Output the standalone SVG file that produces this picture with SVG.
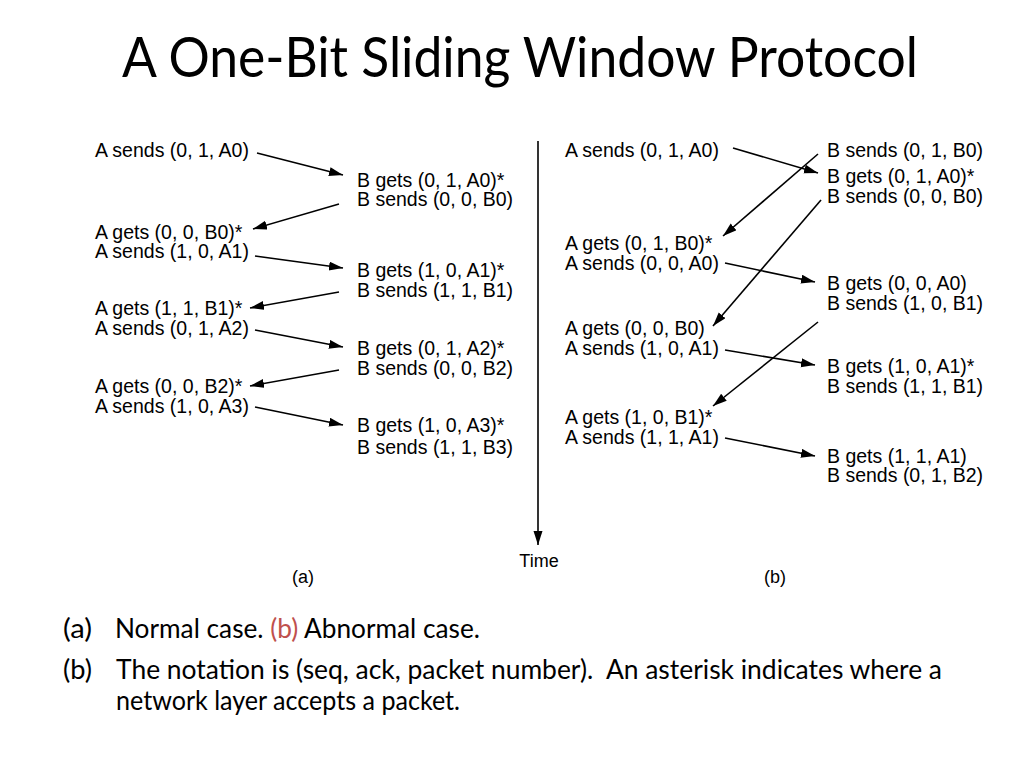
<svg xmlns="http://www.w3.org/2000/svg" width="1024" height="768" viewBox="0 0 1024 768">
<defs>
<marker id="ah" markerUnits="userSpaceOnUse" markerWidth="15" markerHeight="10" refX="14" refY="4.5" orient="auto">
<path d="M0,0 L14,4.5 L0,9 z" fill="#000"/>
</marker>
<style>
.t{font-family:"Liberation Sans",Arial,sans-serif;font-size:19.5px;fill:#000}
.s{font-family:"Liberation Sans",Arial,sans-serif;font-size:18px;fill:#000}
.c{font-family:Lato,"Open Sans",sans-serif;fill:#000}
.ln{stroke:#000;stroke-width:1.6;fill:none;marker-end:url(#ah)}
</style>
</defs>
<rect width="1024" height="768" fill="#fff"/>
<g id="title"><text class="c" x="122" y="77" font-size="56" textLength="796" lengthAdjust="spacingAndGlyphs">A One-Bit Sliding Window Protocol</text></g>

<g id="panel-a">
<g id="a1"><text class="t" x="95" y="157">A sends (0, 1, A0)</text></g>
<g id="b1"><text class="t" x="357" y="187">B gets (0, 1, A0)*</text><text class="t" x="357" y="206">B sends (0, 0, B0)</text></g>
<g id="a2"><text class="t" x="95" y="239">A gets (0, 0, B0)*</text><text class="t" x="95" y="258">A sends (1, 0, A1)</text></g>
<g id="b2"><text class="t" x="357" y="277">B gets (1, 0, A1)*</text><text class="t" x="357" y="297">B sends (1, 1, B1)</text></g>
<g id="a3"><text class="t" x="95" y="315">A gets (1, 1, B1)*</text><text class="t" x="95" y="335">A sends (0, 1, A2)</text></g>
<g id="b3"><text class="t" x="357" y="355">B gets (0, 1, A2)*</text><text class="t" x="357" y="375">B sends (0, 0, B2)</text></g>
<g id="a4"><text class="t" x="95" y="393">A gets (0, 0, B2)*</text><text class="t" x="95" y="413">A sends (1, 0, A3)</text></g>
<g id="b4"><text class="t" x="357" y="432">B gets (1, 0, A3)*</text><text class="t" x="357" y="454">B sends (1, 1, B3)</text></g>
<g id="label-a"><text class="s" x="303" y="583" text-anchor="middle">(a)</text></g>
</g>

<g id="panel-b">
<g id="ba1"><text class="t" x="565" y="157">A sends (0, 1, A0)</text></g>
<g id="bb1"><text class="t" x="827" y="157">B sends (0, 1, B0)</text><text class="t" x="827" y="183">B gets (0, 1, A0)*</text><text class="t" x="827" y="203">B sends (0, 0, B0)</text></g>
<g id="ba2"><text class="t" x="565" y="250">A gets (0, 1, B0)*</text><text class="t" x="565" y="270">A sends (0, 0, A0)</text></g>
<g id="bb2"><text class="t" x="827" y="290">B gets (0, 0, A0)</text><text class="t" x="827" y="310">B sends (1, 0, B1)</text></g>
<g id="ba3"><text class="t" x="565" y="335">A gets (0, 0, B0)</text><text class="t" x="565" y="355">A sends (1, 0, A1)</text></g>
<g id="bb3"><text class="t" x="827" y="373">B gets (1, 0, A1)*</text><text class="t" x="827" y="393">B sends (1, 1, B1)</text></g>
<g id="ba4"><text class="t" x="565" y="424">A gets (1, 0, B1)*</text><text class="t" x="565" y="444">A sends (1, 1, A1)</text></g>
<g id="bb4"><text class="t" x="827" y="463">B gets (1, 1, A1)</text><text class="t" x="827" y="482">B sends (0, 1, B2)</text></g>
<g id="label-b"><text class="s" x="775" y="583" text-anchor="middle">(b)</text></g>
</g>

<g id="time"><text class="s" x="539" y="567" text-anchor="middle">Time</text></g>

<g id="connectors">
<line class="ln" x1="538" y1="141" x2="538" y2="545"/>
<line class="ln" x1="257" y1="153" x2="343" y2="175"/>
<line class="ln" x1="339" y1="204" x2="253" y2="229"/>
<line class="ln" x1="255" y1="256" x2="343" y2="268"/>
<line class="ln" x1="339" y1="292" x2="250" y2="308"/>
<line class="ln" x1="255" y1="330" x2="343" y2="347"/>
<line class="ln" x1="339" y1="370" x2="250" y2="386"/>
<line class="ln" x1="255" y1="407" x2="343" y2="425"/>
<line class="ln" x1="733" y1="148" x2="818" y2="173"/>
<line class="ln" x1="818" y1="154" x2="723" y2="236"/>
<line class="ln" x1="821" y1="200" x2="713" y2="326"/>
<line class="ln" x1="725" y1="263" x2="815" y2="282"/>
<line class="ln" x1="818" y1="322" x2="713" y2="406"/>
<line class="ln" x1="725" y1="350" x2="815" y2="365"/>
<line class="ln" x1="725" y1="438" x2="815" y2="456"/>
</g>

<g id="caption">
<text class="c" x="63" y="638" font-size="26" textLength="29" lengthAdjust="spacingAndGlyphs">(a)</text>
<text class="c" x="115" y="638" font-size="26" textLength="365" lengthAdjust="spacingAndGlyphs">Normal case. <tspan fill="#C0504D">(b)</tspan> Abnormal case.</text>
<text class="c" x="63" y="679" font-size="26" textLength="29" lengthAdjust="spacingAndGlyphs">(b)</text>
<text class="c" x="116" y="679" font-size="26" textLength="826" lengthAdjust="spacingAndGlyphs" xml:space="preserve">The notation is (seq, ack, packet number).  An asterisk indicates where a</text>
<text class="c" x="116" y="710" font-size="26" textLength="344" lengthAdjust="spacingAndGlyphs">network layer accepts a packet.</text>
</g>
</svg>
